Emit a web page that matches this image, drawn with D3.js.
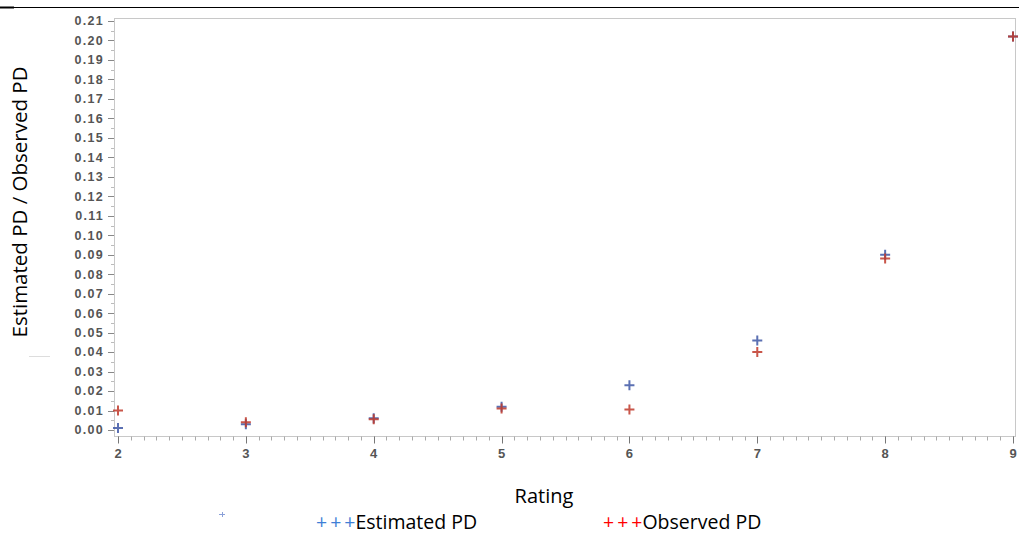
<!DOCTYPE html>
<html>
<head>
<meta charset="utf-8">
<script src="https://cdn.jsdelivr.net/npm/d3@7"></script>
<style>
  body { margin: 0; background: #fff; }
  svg { display: block; }
</style>
</head>
<body>
<svg id="chart" width="1019" height="535"></svg>
<script>
const ratings = [2, 3, 4, 5, 6, 7, 8, 9];
const estimatedPD = [0.001, 0.003, 0.006, 0.012, 0.023, 0.046, 0.090, 0.202];
const observedPD = [0.010, 0.004, 0.0055, 0.011, 0.0105, 0.040, 0.088, 0.202];
const yTicks = d3.range(0, 22).map(function (i) { return i / 100; });

let svg = d3.select("#chart");
let margin = { top: 18, right: 3, bottom: 98, left: 114 },
  width = 1019 - margin.left - margin.right,
  height = 535 - margin.top - margin.bottom;

// top rule of the page
svg.append("line").attr("x1", 0).attr("x2", 1019).attr("y1", 7.5).attr("y2", 7.5)
  .attr("stroke", "#000").attr("stroke-width", 1);
svg.append("line").attr("x1", 0).attr("x2", 14).attr("y1", 7.5).attr("y2", 7.5)
  .attr("stroke", "#000").attr("stroke-width", 2);
svg.append("line").attr("x1", 29).attr("x2", 50).attr("y1", 356.5).attr("y2", 356.5)
  .attr("stroke", "#ddd").attr("stroke-width", 1);

let x = d3.scaleLinear().domain([2, 9]).range([4, 899]);
let y = d3.scaleLinear().domain([0, 0.21]).range([412, 3]);

let g = svg.append("g")
  .attr("transform", "translate(" + margin.left + "," + margin.top + ")");

// frame
g.append("rect").attr("x", 0.5).attr("y", 0.5)
  .attr("width", width - 1).attr("height", 418)
  .attr("fill", "none").attr("stroke", "#c8c8c8");

// x axis
let xAxis = g.append("g").attr("transform", "translate(0,418.5)");
let xMinor = d3.range(20, 91).map(function (i) { return i / 10; });
xAxis.selectAll(".minor").data(xMinor).enter().append("line")
  .attr("x1", function (d) { return Math.round(x(d)) + 0.5; })
  .attr("x2", function (d) { return Math.round(x(d)) + 0.5; })
  .attr("y1", 0).attr("y2", 4)
  .attr("stroke", "#aaa");
xAxis.selectAll(".major").data(ratings).enter().append("line")
  .attr("x1", function (d) { return Math.round(x(d)) + 0.5; })
  .attr("x2", function (d) { return Math.round(x(d)) + 0.5; })
  .attr("y1", 0).attr("y2", 7)
  .attr("stroke", "#777");
xAxis.selectAll("text").data(ratings).enter().append("text")
  .attr("x", function (d) { return x(d); })
  .attr("y", 21)
  .attr("text-anchor", "middle")
  .attr("font-family", "Liberation Sans, Arial, sans-serif")
  .attr("font-size", 13).attr("font-weight", "bold")
  .attr("fill", "#555")
  .text(function (d) { return d; });

// y axis
let yAxis = g.append("g");
let yMinor = d3.range(0, 43).map(function (i) { return i / 200; });
yAxis.selectAll(".minor").data(yMinor).enter().append("line")
  .attr("x1", -3).attr("x2", 0)
  .attr("y1", function (d) { return Math.round(y(d)) + 0.5; })
  .attr("y2", function (d) { return Math.round(y(d)) + 0.5; })
  .attr("stroke", "#bbb");
yAxis.selectAll(".major").data(yTicks).enter().append("line")
  .attr("x1", -6).attr("x2", 0)
  .attr("y1", function (d) { return Math.round(y(d)) + 0.5; })
  .attr("y2", function (d) { return Math.round(y(d)) + 0.5; })
  .attr("stroke", "#888");
yAxis.selectAll("text").data(yTicks).enter().append("text")
  .attr("x", -10)
  .attr("y", function (d) { return y(d); })
  .attr("dy", "0.35em")
  .attr("text-anchor", "end")
  .attr("font-family", "Liberation Sans, Arial, sans-serif")
  .attr("font-size", 12.5).attr("font-weight", "bold")
  .attr("letter-spacing", 1.3)
  .attr("fill", "#555")
  .text(function (d) { return d3.format(".2f")(d); });

// markers
function plus(sel, data, color) {
  let p = g.selectAll(null).data(data).enter().append("g")
    .attr("transform", function (d, i) {
      return "translate(" + x(ratings[i]) + "," + y(d) + ")";
    });
  p.append("path").attr("d", "M-5,0H5M0,-5V5")
    .attr("stroke", color).attr("stroke-width", 2).attr("opacity", 0.85);
}
plus(g, estimatedPD, "#3f58a6");
plus(g, observedPD, "#c0392b");

// titles
svg.append("text")
  .attr("transform", "translate(27,202) rotate(-90)")
  .attr("text-anchor", "middle")
  .attr("font-family", "Open Sans, Noto Sans, sans-serif")
  .attr("font-size", 20.5).attr("fill", "#000")
  .text("Estimated PD / Observed PD");
svg.append("text")
  .attr("x", 544).attr("y", 503)
  .attr("text-anchor", "middle")
  .attr("font-family", "Open Sans, Noto Sans, sans-serif")
  .attr("font-size", 20).attr("fill", "#000")
  .text("Rating");

// legend
const legendItems = [
  { name: "Estimated PD", color: "#3f7fd6", x: 316 },
  { name: "Observed PD", color: "#ff0000", x: 603 }
];
let lg = svg.selectAll(".legend").data(legendItems).enter().append("text")
  .attr("x", function (d) { return d.x; }).attr("y", 529)
  .attr("font-family", "Open Sans, Noto Sans, sans-serif")
  .attr("font-size", 19.5).attr("fill", "#000");
lg.append("tspan").attr("fill", function (d) { return d.color; })
  .attr("letter-spacing", 3).text("+++");
lg.append("tspan").attr("dx", -3).text(function (d) { return d.name; });

svg.append("path").attr("d", "M219,514.5H225M222.5,512V517")
  .attr("stroke", "#8aa0d8").attr("stroke-width", 1);
</script>
</body>
</html>
